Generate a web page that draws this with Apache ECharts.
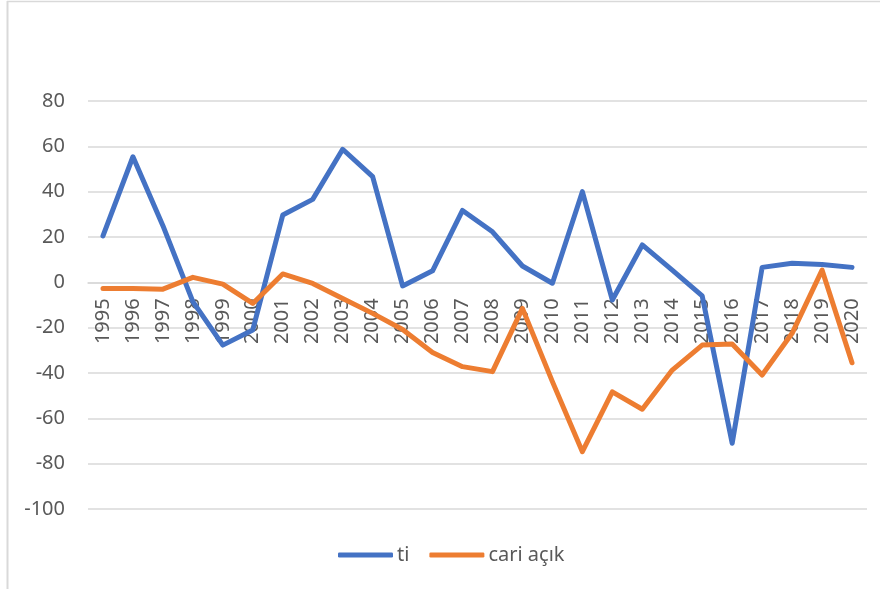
<!DOCTYPE html>
<html>
<head>
<meta charset="utf-8">
<style>
  html, body { margin: 0; padding: 0; background: #ffffff; }
  #chart { width: 880px; height: 589px; }
</style>
<script src="https://cdn.jsdelivr.net/npm/echarts@6/dist/echarts.min.js"></script>
</head>
<body>
<div id="chart"></div>
<script>
// Years on the category axis
const years = ['1995','1996','1997','1998','1999','2000','2001','2002','2003','2004',
               '2005','2006','2007','2008','2009','2010','2011','2012','2013','2014',
               '2015','2016','2017','2018','2019','2020'];

// Series "ti"
const tiValues = [20.5, 55.4, 25, -8.5, -27.7, -21, 29.7, 36.6, 58.7, 46.6,
                  -1.6, 5.1, 31.7, 22.3, 7.2, -0.4, 40, -7.8, 16.5, 5.4,
                  -6, -71, 6.6, 8.4, 7.9, 6.6];

// Series "cari açık"
const cariValues = [-2.7, -2.7, -3, 2.2, -0.8, -9.3, 3.7, -0.5, -7.1, -13.7,
                    -20.8, -31, -37.2, -39.4, -11.5, -43.8, -74.7, -48.3, -56, -38.7,
                    -27.7, -27.2, -40.9, -22.5, 5.4, -35.5];

const seriesNames = ['ti', 'cari açık'];

const FONT = 'Noto Sans';
const TEXT = '#595959';
const GRID = '#D9D9D9';

// Value range of the y axis
const Y_MIN = -100;
const Y_MAX = 80;

const GRID_TOP = 101;
const GRID_BOTTOM = 80;
const CHART_H = 589;

// Category axis sits on the zero line: shift it up from the bottom edge of the grid
const plotH = CHART_H - GRID_TOP - GRID_BOTTOM;
const zeroShift = plotH * (0 - Y_MIN) / (Y_MAX - Y_MIN);

const chart = echarts.init(document.getElementById('chart'), null, { renderer: 'canvas' });

chart.setOption({
  animation: false,
  backgroundColor: '#ffffff',
  textStyle: { fontFamily: FONT },
  grid: { left: 88, right: 13, top: GRID_TOP, bottom: GRID_BOTTOM, containLabel: false },
  graphic: [
    { type: 'line', shape: { x1: 7.5, y1: 1, x2: 7.5, y2: 589 }, style: { stroke: GRID, lineWidth: 2 }, silent: true },
    { type: 'line', shape: { x1: 7, y1: 1.5, x2: 880, y2: 1.5 }, style: { stroke: GRID, lineWidth: 1.5 }, silent: true }
  ],
  legend: {
    data: [
      { name: seriesNames[0], icon: 'roundRect' },
      { name: seriesNames[1], icon: 'roundRect' }
    ],
    left: 333,
    top: 540,
    itemWidth: 55,
    itemHeight: 5,
    itemGap: 20,
    textStyle: { color: TEXT, fontSize: 20, fontFamily: FONT, padding: [0, 0, 0, -1] }
  },
  xAxis: {
    type: 'category',
    data: years,
    boundaryGap: true,
    position: 'bottom',
    offset: -zeroShift,
    axisLine: { show: true, onZero: false, lineStyle: { color: GRID, width: 1.5 } },
    axisTick: { show: false },
    axisLabel: {
      rotate: 90,
      interval: 0,
      margin: 16,
      color: TEXT,
      fontSize: 20,
      fontFamily: FONT
    },
    splitLine: { show: false }
  },
  yAxis: {
    type: 'value',
    min: Y_MIN,
    max: Y_MAX,
    interval: 20,
    axisLine: { show: false },
    axisTick: { show: false },
    axisLabel: { color: TEXT, fontSize: 20, fontFamily: FONT, margin: 23 },
    splitLine: { lineStyle: { color: GRID, width: 1.5 } }
  },
  series: [
    {
      name: seriesNames[0],
      type: 'line',
      data: tiValues,
      symbol: 'none',
      lineStyle: { color: '#4472C4', width: 5, cap: 'round', join: 'round' },
      itemStyle: { color: '#4472C4' },
      z: 3
    },
    {
      name: seriesNames[1],
      type: 'line',
      data: cariValues,
      symbol: 'none',
      lineStyle: { color: '#ED7D31', width: 5, cap: 'round', join: 'round' },
      itemStyle: { color: '#ED7D31' },
      z: 4
    }
  ]
});
</script>
</body>
</html>
